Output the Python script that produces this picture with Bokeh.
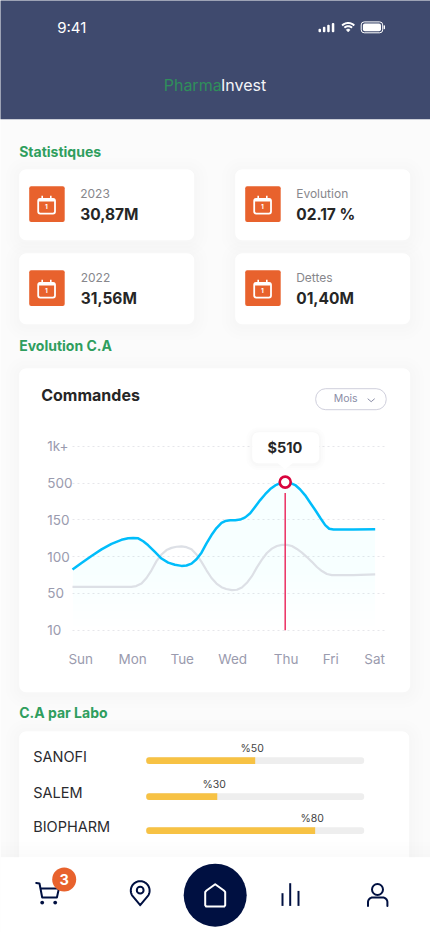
import numpy as np
from bokeh.core.properties import value
from bokeh.plotting import figure
from bokeh.models import Range1d, LinearAxis, FixedTicker, Grid
from bokeh.embed import file_html
from bokeh.resources import INLINE

# ---------- data ----------
app_title = ["Pharma", "Invest"]
stat_labels = ["2023", "Evolution", "2022", "Dettes"]
stat_values = ["30,87M", "02.17 %", "31,56M", "01,40M"]

level_ticks = [0, 1, 2, 3, 4, 5]
level_labels = ["10", "50", "100", "150", "500", "1k+"]
day_labels = ["Sun", "Mon", "Tue", "Wed", "Thu", "Fri", "Sat"]
day_ticks = [8.5, 60.5, 110, 160.5, 214, 258.5, 302.5]

blue_t = [0.3, 9.3, 19.3, 29.3, 39.3, 49.3, 56, 61, 66, 71, 76, 82.7, 89.3, 96, 102.7, 109.3, 114.3,
          119.3, 124.3, 129.3, 134.3, 139.3, 144.3, 149.3, 153, 158, 163, 168, 173, 178, 183, 188,
          193, 198, 203, 208, 213, 218, 223, 228, 233, 238, 243, 248, 253, 257, 261.3, 281, 303]
blue_level = [1.65, 1.83, 2.02, 2.20, 2.35, 2.46, 2.50, 2.51, 2.50, 2.42, 2.31, 2.13, 1.95, 1.84, 1.78, 1.75, 1.76,
              1.81, 1.93, 2.11, 2.36, 2.59, 2.78, 2.92, 2.97, 2.99, 2.99, 3.01, 3.07, 3.18, 3.36, 3.54,
              3.70, 3.84, 3.94, 4.00, 4.03, 4.01, 3.95, 3.83, 3.67, 3.47, 3.27, 3.06, 2.86, 2.76, 2.74, 2.74, 2.75]
gray_t = [0.3, 29, 59, 64, 69.3, 74.3, 79.3, 84.3, 89.3, 94.3, 99.3, 104.3, 109.3, 114.3, 119.3, 124.3, 129.3,
          134.3, 139.3, 144.3, 149.3, 154, 159.7, 164.7, 169.7, 174.7, 179.7, 184.7, 189.7, 194.7, 199.7,
          204.7, 209.7, 214.7, 219.7, 224.7, 229.7, 234.7, 239.7, 244.7, 249.7, 254.7, 259.7, 281, 303]
gray_level = [1.18, 1.18, 1.18, 1.20, 1.27, 1.42, 1.63, 1.88, 2.06, 2.18, 2.24, 2.27, 2.28, 2.26, 2.20, 2.06, 1.86,
              1.63, 1.42, 1.27, 1.17, 1.12, 1.09, 1.10, 1.16, 1.29, 1.47, 1.71, 1.92, 2.10, 2.22,
              2.29, 2.32, 2.32, 2.29, 2.21, 2.11, 1.99, 1.86, 1.72, 1.61, 1.53, 1.50, 1.50, 1.52]
peak_t = 213
peak_level = 4.03
peak_label = "$510"

labo_names = ["SANOFI", "SALEM", "BIOPHARM"]
labo_fill = [50, 32.6, 77.5]
labo_tags = ["%50", "%30", "%80"]

# ---------- layout ----------
W, H = 430, 932
NUDGE = 0.3
NAVY = "#001041"
ORANGE = "#E8622D"
GREEN = "#2F9E5E"
TICK = "#9A9BAE"
INK = "#262626"
FONT = "Inter"

p = figure(width=W, height=H, output_backend="svg", toolbar_location=None,
           x_range=Range1d(NUDGE, W + NUDGE), y_range=Range1d(H + NUDGE, NUDGE), x_axis_type=None, y_axis_type=None,
           min_border=0, outline_line_color=None, background_fill_color="#FBFBFB",
           border_fill_color="#FBFBFB")
p.grid.visible = False

# chart scales: t unit = 1px with 72 at origin; level spacing 36.75 px with level 0 at 630
p.extra_x_ranges["week"] = Range1d(NUDGE - 72, W + NUDGE - 72)
p.extra_y_ranges["level"] = Range1d((630 - H - NUDGE) / 36.75, (630 - NUDGE) / 36.75)
# bar scale: 0 % at 146, 100 % at 364
p.extra_x_ranges["pct"] = Range1d((NUDGE - 146) / 2.18, (W + NUDGE - 146) / 2.18)


def box(x0, y0, x1, y1, color, radius=0, alpha=1.0, level="glyph", line=None, lw=1):
    r = p.quad(left=[x0], right=[x1], top=[y0], bottom=[y1], fill_color=color if color else None,
               fill_alpha=alpha, line_color=line, line_width=lw, border_radius=int(round(radius)))
    r.level = level
    return r


def text(x, y, s, size, color=INK, bold=False, align="left", font=FONT):
    p.text([x], [y], text=[s], text_font=value(font), text_font_size=f"{size}px", text_color=color,
           text_font_style="bold" if bold else "normal", text_align=align, text_baseline="middle")


def card(x0, y0, x1, y1, radius=7):
    for g, a in ((14, .004), (10, .004), (6, .005), (3, .005)):
        box(x0 - g, y0 - g + 2, x1 + g, y1 + g + 2, "#000000", radius + g, a, "image")
    box(x0, y0, x1, y1, "#FFFFFF", radius, level="image")


def arc_pts(cx, cy, r, a0, a1, n=24):
    a = np.radians(np.linspace(a0, a1, n))
    return cx + r * np.cos(a), cy + r * np.sin(a)


# ---------- header ----------
box(-3, -3, W + 3, 119, "#3F4A6E", level="image")
text(57, 27, "9:41", 15, "#FFFFFF", False)
for x0, top in zip((318.3, 322.7, 327, 331.6), (28.5, 26.6, 24.6, 22.7)):
    box(x0, top, x0 + 2.5, 32, "#FFFFFF", 1)
for r_ in (8.6, 5.4):
    xs, ys = arc_pts(348, 31.4, r_, 225, 315)
    p.line(xs, ys, line_color="#FFFFFF", line_width=2)
xs, ys = arc_pts(348, 31.6, 2.8, 225, 315)
p.patch(list(xs) + [348], list(ys) + [31.8], fill_color="#FFFFFF", line_color="#FFFFFF", line_width=.5)
box(361, 21.7, 382.5, 32.6, None, 3, line="#FFFFFF", lw=1)
box(362.7, 23.3, 380.8, 31, "#FFFFFF", 2)
box(383.4, 25, 384.8, 29, "#FFFFFF", 1)
text(163.5, 85, app_title[0], 16, "#2F8F5B")
text(220.8, 85, app_title[1], 16, "#F4F5F8")


# ---------- statistics ----------
def calendar(x0, y0):
    box(x0, y0, x0 + 35.5, y0 + 35.8, ORANGE, 2.5)
    box(x0 + 9, y0 + 12.6, x0 + 25.8, y0 + 27.4, None, 2.5, line="#FFFFFF", lw=1.8)
    box(x0 + 9, y0 + 12.6, x0 + 25.8, y0 + 15.2, "#FFFFFF", 1)
    p.segment([x0 + 13, x0 + 21.6], [y0 + 9.6] * 2, [x0 + 13, x0 + 21.6], [y0 + 13] * 2,
              line_color="#FFFFFF", line_width=1.6)
    text(x0 + 17.3, y0 + 20.4, "1", 6.5, "#FFFFFF", True, "center")


text(19, 151, "Statistiques", 14, GREEN, True)
text(19, 345, "Evolution C.A", 14, GREEN, True)
text(19, 712, "C.A par Labo", 14, GREEN, True)
for i, (cx, cy) in enumerate(((19, 169), (235, 169), (19, 253), (235, 253))):
    card(cx, cy, cx + 175, cy + 71)
    calendar(cx + 10, cy + 17)
    lx = cx + 61 + (0.5 if i == 2 else 0)
    text(lx, cy + 24, stat_labels[i], 12, "#87878C")
    text(lx, cy + 45, stat_values[i], 15.5, INK, True)

# ---------- line chart ----------
card(19, 368, 410, 692)
text(41, 395, "Commandes", 16, INK, True)
box(315.5, 388.5, 386, 409.5, "#FFFFFF", 10.5, line="#CFCFDC", lw=1)
text(345.5, 398.5, "Mois", 10.5, "#8A8DA6", False, "center")
p.line([367.5, 371, 374.5], [398.5, 401.5, 398.5], line_color="#8A8DA6", line_width=1)

grid = Grid(dimension=1, ticker=FixedTicker(ticks=level_ticks), y_range_name="level",
            cross_bounds=(72, 385), grid_line_color="#E6E6EA", grid_line_width=1, grid_line_dash=[2, 3])
p.add_layout(grid, "center")

blue_arr = np.array(blue_level)
for b in np.arange(0.1, 1.7, 0.2):
    r = p.varea(x=blue_t, y1=np.minimum(blue_arr, b), y2=blue_arr, fill_color="#00AEFF", fill_alpha=0.0055,
                x_range_name="week", y_range_name="level")

p.line(gray_t, gray_level, line_color="#DDE0E6", line_width=2.2, x_range_name="week", y_range_name="level")
p.line(blue_t, blue_level, line_color="#00BDFB", line_width=2.5, line_join="round",
       x_range_name="week", y_range_name="level")
p.segment([peak_t], [level_ticks[0]], [peak_t], [3.73], line_color="#EB2F62", line_width=1.5,
          x_range_name="week", y_range_name="level")
p.scatter([peak_t], [peak_level], marker="circle", size=11, fill_color="#FFFFFF", line_color="#D9043D",
          line_width=2.6, x_range_name="week", y_range_name="level")

for g, a in ((6, .006), (4, .008), (2, .01)):
    box(252 - g, 432 - g + 1, 319 + g, 463 + g + 1, "#000000", 6 + g, a)
box(252, 432, 319, 463, "#FFFFFF", 6)
p.patch([277, 293, 285], [462.5, 462.5, 469], fill_color="#FFFFFF", line_color=None)
text(284.8, 447, peak_label, 14.5, INK, True, "center")

ax_y = LinearAxis(y_range_name="level", fixed_location=41, ticker=FixedTicker(ticks=level_ticks),
                  major_label_overrides=dict(zip(level_ticks, level_labels)),
                  axis_line_color=None, major_tick_line_color=None, minor_tick_line_color=None,
                  major_label_text_font=FONT, major_label_text_font_size="13.5px",
                  major_label_text_color=TICK, major_label_standoff=0)
p.add_layout(ax_y, "right")
ax_x = LinearAxis(x_range_name="week", fixed_location=644, ticker=FixedTicker(ticks=day_ticks),
                  major_label_overrides=dict(zip(day_ticks, day_labels)),
                  axis_line_color=None, major_tick_line_color=None, minor_tick_line_color=None,
                  major_label_text_font=FONT, major_label_text_font_size="13.5px",
                  major_label_text_color=TICK, major_label_standoff=1)
p.add_layout(ax_x, "below")

# ---------- bars ----------
card(19, 731, 409, 880)
row_y = [760.5, 796.5, 830.5]
for name, v, tag, y in zip(labo_names, labo_fill, labo_tags, row_y):
    p.quad(left=[0], right=[100], top=[y - 3.4], bottom=[y + 3.4], fill_color="#EEEEEE", line_color=None,
           border_radius=3, x_range_name="pct")
    p.quad(left=[0], right=[v], top=[y - 3.4], bottom=[y + 3.4], fill_color="#F7C244", line_color=None,
           border_radius=dict(top_left=3, bottom_left=3, top_right=0, bottom_right=0), x_range_name="pct")
    text(33, y - 4.5, name, 14.5, "#2B2B2F")
    p.text([v], [y - 12.4], text=[tag], text_font=value(FONT), text_font_size="10.5px", text_color="#444444",
           text_align="center", text_baseline="middle", x_range_name="pct", x_offset=[-3])

# ---------- bottom navigation ----------
for k, a in ((16, .003), (12, .003), (8, .004), (4, .004)):
    box(-3, 857 - k, W + 3, 857, "#000000", 0, a)
box(-3, 857, W + 3, H + 3, "#FFFFFF")
nav = dict(line_color=NAVY, line_width=2, line_cap="round", line_join="round")
# cart
p.line([36, 39.3, 42, 56.7, 58.7, 40.7], [882.7, 883.3, 897.3, 897.3, 888.3, 888.3], **nav)
p.circle([42, 55], [902.4, 902.4], radius=1.9, fill_color=NAVY, line_color=None)
p.circle([64], [879.3], radius=12, fill_color=ORANGE, line_color=None)
text(64, 879.5, "3", 14.5, "#FFFFFF", True, "center")
# pin
xs, ys = arc_pts(140, 890.4, 9.4, 150, 390, 40)
p.line([140] + list(xs) + [140], [905] + list(ys) + [905], **nav)
p.circle([140], [890], radius=3.4, fill_color=None, line_color=NAVY, line_width=2)
# home
p.circle([215], [895], radius=31.5, fill_color=NAVY, line_color=None)
home = dict(nav, line_color="#FFFFFF")
p.line([206, 215, 224, 225, 225, 224, 206, 205, 205, 206],
       [890.6, 884, 890.6, 892, 905, 906.4, 906.4, 905, 892, 890.6], **home)
# bars
p.segment([282.3, 290, 298.3], [893, 883, 890.7], [282.3, 290, 298.3], [905.7] * 3,
          line_color=NAVY, line_width=2)
# person
p.circle([377.3], [889.3], radius=5.5, fill_color=None, line_color=NAVY, line_width=2)
xs, ys = arc_pts(372.5, 902, 4.7, 180, 270, 10)
xs2, ys2 = arc_pts(382.5, 902, 4.7, 270, 360, 10)
p.line([367.8] + list(xs) + list(xs2) + [387.2], [905.7] + list(ys) + list(ys2) + [905.7], **nav)

open("out.html", "w").write(file_html(p, INLINE))
